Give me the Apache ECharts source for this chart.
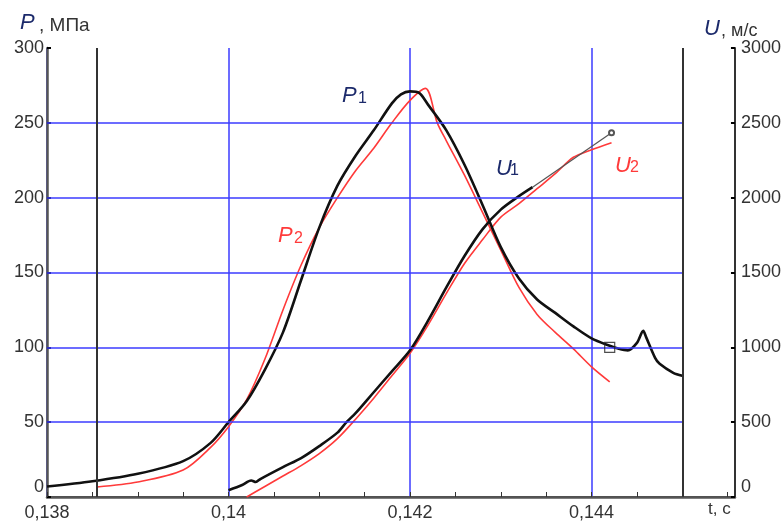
<!DOCTYPE html>
<html><head><meta charset="utf-8">
<script src="https://cdn.jsdelivr.net/npm/echarts@6/dist/echarts.min.js"></script>
<style>html,body{margin:0;padding:0;background:#fff}#c{width:784px;height:526px}</style>
</head><body><div id="c"></div>
<script>
// ---- data ----
const xTicks = [0.138, 0.140, 0.142, 0.144];
const pTicks = [0, 50, 100, 150, 200, 250, 300];
const uTicks = [0, 500, 1000, 1500, 2000, 2500, 3000];

const p1T = [0.1380,0.1385,0.1390,0.1395,0.1398,0.1400,0.1402,0.1404,0.1406,0.1408,0.1410,0.1412,0.1414,0.1416,0.1418,0.1419,0.1420,0.1421,0.1422,0.1424,0.1426,0.1428,0.1430,0.1432,0.1434,0.1436,0.1438,0.1440,0.1442,0.1443,0.1444,0.1445,0.14457,0.1446,0.1447,0.14475,0.1449,0.1450];
const p1V = [7,10.5,15.5,24,36,50,64,85,110,145,180,208,228,245,263,269,271,270,262,245,222,195,167,146,132,123,114,106,101,99,98,103,111,107,93,89,83,81];

const p2T = [0.13855,0.1390,0.1395,0.1398,0.1400,0.1402,0.1404,0.1406,0.1408,0.1410,0.1412,0.1414,0.1416,0.1418,0.1420,0.14217,0.1423,0.1424,0.1426,0.1428,0.1430,0.1432,0.1434,0.1436,0.1438,0.1440,0.1442];
const p2V = [6.7,10,18,33,47,65,92,125,155,180,200,218,233,250,265,273,250,238,215,190,165,140,122,110,99,87,77];

const u1T = [0.1400,0.14015,0.14025,0.1403,0.14035,0.1406,0.1408,0.1410,0.1412,0.1413,0.1414,0.1416,0.1418,0.1420,0.1422,0.1424,0.1426,0.1428,0.1430,0.1432,0.14335];
const u1V = [45,80,110,100,120,200,260,340,430,500,560,700,840,980,1180,1400,1610,1790,1920,2010,2070];

const u1ExtT = [0.14335, 0.14422];
const u1ExtV = [2070, 2433];

const u2T = [0.14020,0.1404,0.1406,0.1408,0.1410,0.1412,0.1414,0.1416,0.1418,0.1420,0.1422,0.1424,0.1426,0.1428,0.1430,0.1432,0.1434,0.1436,0.1438,0.1440,0.14422];
const u2V = [0,70,140,210,290,390,520,660,810,960,1150,1360,1560,1720,1870,1960,2060,2160,2270,2320,2367];

const markerT = [0.1442];
const markerP = [100];

const hGridP = [50, 100, 150, 200, 250];
const innerBounds = [0.138, 0.145];
const blackVLines = [0.13855, 0.145];

// ---- chart ----
const pair = (t, v) => t.map((x, i) => [x, v[i]]);
const BLUE = '#3b3bff', RED = '#ff3a3a', DARK = '#1c2a6b';
const chart = echarts.init(document.getElementById('c'));
const fmtX = v => { const s = (+v.toFixed(3)).toString().replace('.', ','); return xTicks.some(t => Math.abs(t - v) < 1e-9) ? s : ''; };
const fmtY = v => v === 0 ? '{z|0}' : String(v);
const yRich = { z: { fontSize: 18, color: '#333', fontFamily: 'Liberation Sans', padding: [0, 0, 20, 0] } };
const SM = { smooth: 0.3 };

chart.setOption({
  animation: false,
  backgroundColor: '#fff',
  grid: { left: 47, right: 49, top: 48, bottom: 29, containLabel: false },
  xAxis: [{
    type: 'value', min: 0.138, max: 0.14558, interval: 0.002, position: 'bottom',
    axisLine: { lineStyle: { color: '#444', width: 2 } },
    axisTick: { inside: true, length: 5, lineStyle: { color: '#333' } },
    minorTick: { show: true, splitNumber: 4, length: 5, lineStyle: { color: '#333' } },
    axisLabel: { formatter: fmtX, fontSize: 18, color: '#333', margin: 7, fontFamily: 'Liberation Sans', showMaxLabel: false },
    splitLine: { show: true, lineStyle: { color: BLUE, width: 1.5 } }
  }, {
    type: 'value', min: 0.138, max: 0.14558, position: 'top',
    axisLine: { show: true, lineStyle: { color: '#555', width: 2.5 } },
    axisTick: { show: false }, axisLabel: { show: false }, splitLine: { show: false }
  }],
  yAxis: [{
    type: 'value', min: 0, max: 300, interval: 50, position: 'left',
    axisLine: { show: true, lineStyle: { color: '#555', width: 2.5 } },
    axisTick: { show: true, inside: true, length: 4, lineStyle: { color: '#000', width: 2 } },
    axisLabel: { formatter: fmtY, rich: yRich, fontSize: 18, color: '#333', margin: 3, fontFamily: 'Liberation Sans' },
    splitLine: { show: false }
  }, {
    type: 'value', min: 0, max: 3000, interval: 500, position: 'right',
    axisLine: { show: true, lineStyle: { color: '#333', width: 2 } },
    axisTick: { show: true, inside: true, length: 4, lineStyle: { color: '#000', width: 2 } },
    axisLabel: { formatter: fmtY, rich: yRich, fontSize: 18, color: '#333', margin: 6, fontFamily: 'Liberation Sans' },
    splitLine: { show: false }
  }],
  series: [
    {
      name: 'grid', type: 'line', data: [], silent: true,
      markLine: {
        silent: true, symbol: 'none', label: { show: false }, animation: false,
        data: hGridP.map(v => [{ coord: [innerBounds[0], v], lineStyle: { color: BLUE, width: 1.5, type: 'solid' } }, { coord: [innerBounds[1], v] }])
          .concat(blackVLines.map(x => [{ coord: [x, 0], lineStyle: { color: '#333', width: 2, type: 'solid' } }, { coord: [x, 300] }]))
      }
    },
    Object.assign({ name: 'P2', type: 'line', yAxisIndex: 0, data: pair(p2T, p2V), showSymbol: false, lineStyle: { color: RED, width: 1.6 }, z: 3 }, SM),
    Object.assign({ name: 'U2', type: 'line', yAxisIndex: 1, data: pair(u2T, u2V), showSymbol: false, lineStyle: { color: RED, width: 1.6 }, z: 3 }, SM),
    Object.assign({ name: 'P1', type: 'line', yAxisIndex: 0, data: pair(p1T, p1V), showSymbol: false, lineStyle: { color: '#111', width: 2.6 }, z: 4 }, SM),
    Object.assign({ name: 'U1', type: 'line', yAxisIndex: 1, data: pair(u1T, u1V), showSymbol: false, lineStyle: { color: '#111', width: 2.6 }, z: 4 }, SM),
    { name: 'U1ext', type: 'line', yAxisIndex: 1,
      data: pair(u1ExtT, u1ExtV).map((d, i) => ({ value: d, symbol: i === 1 ? 'emptyCircle' : 'none', symbolSize: 5 })),
      lineStyle: { color: '#555', width: 1.2 }, itemStyle: { color: '#555' }, z: 4 },
    { name: 'mark', type: 'scatter', yAxisIndex: 0, data: pair(markerT, markerP), symbol: 'rect', symbolSize: 10,
      itemStyle: { color: 'rgba(0,0,0,0)', borderColor: '#222', borderWidth: 1.2 }, z: 5 }
  ],
  graphic: [
    { type: 'text', x: 20, y: 12, style: { text: 'P', font: 'italic 22px "Liberation Sans"', fill: DARK } },
    { type: 'text', x: 39, y: 16, style: { text: ', МПа', font: '19px "Liberation Sans"', fill: '#333' } },
    { type: 'text', x: 704, y: 18, style: { text: 'U', font: 'italic 22px "Liberation Sans"', fill: DARK } },
    { type: 'text', x: 721, y: 22, style: { text: ', м/с', font: '18px "Liberation Sans"', fill: '#333' } },
    { type: 'text', x: 708, y: 501, style: { text: 't, c', font: '17px "Liberation Sans"', fill: '#333' } },
    { type: 'text', x: 342, y: 85, style: { text: 'P', font: 'italic 22px "Liberation Sans"', fill: DARK } },
    { type: 'text', x: 358, y: 91, style: { text: '1', font: '16px "Liberation Sans"', fill: DARK } },
    { type: 'text', x: 278, y: 225, style: { text: 'P', font: 'italic 22px "Liberation Sans"', fill: RED } },
    { type: 'text', x: 294, y: 231, style: { text: '2', font: '16px "Liberation Sans"', fill: RED } },
    { type: 'text', x: 496, y: 158, style: { text: 'U', font: 'italic 22px "Liberation Sans"', fill: DARK } },
    { type: 'text', x: 510, y: 163, style: { text: '1', font: '16px "Liberation Sans"', fill: DARK } },
    { type: 'text', x: 615, y: 155, style: { text: 'U', font: 'italic 22px "Liberation Sans"', fill: RED } },
    { type: 'text', x: 630, y: 160, style: { text: '2', font: '16px "Liberation Sans"', fill: RED } }
  ]
});
</script></body></html>
